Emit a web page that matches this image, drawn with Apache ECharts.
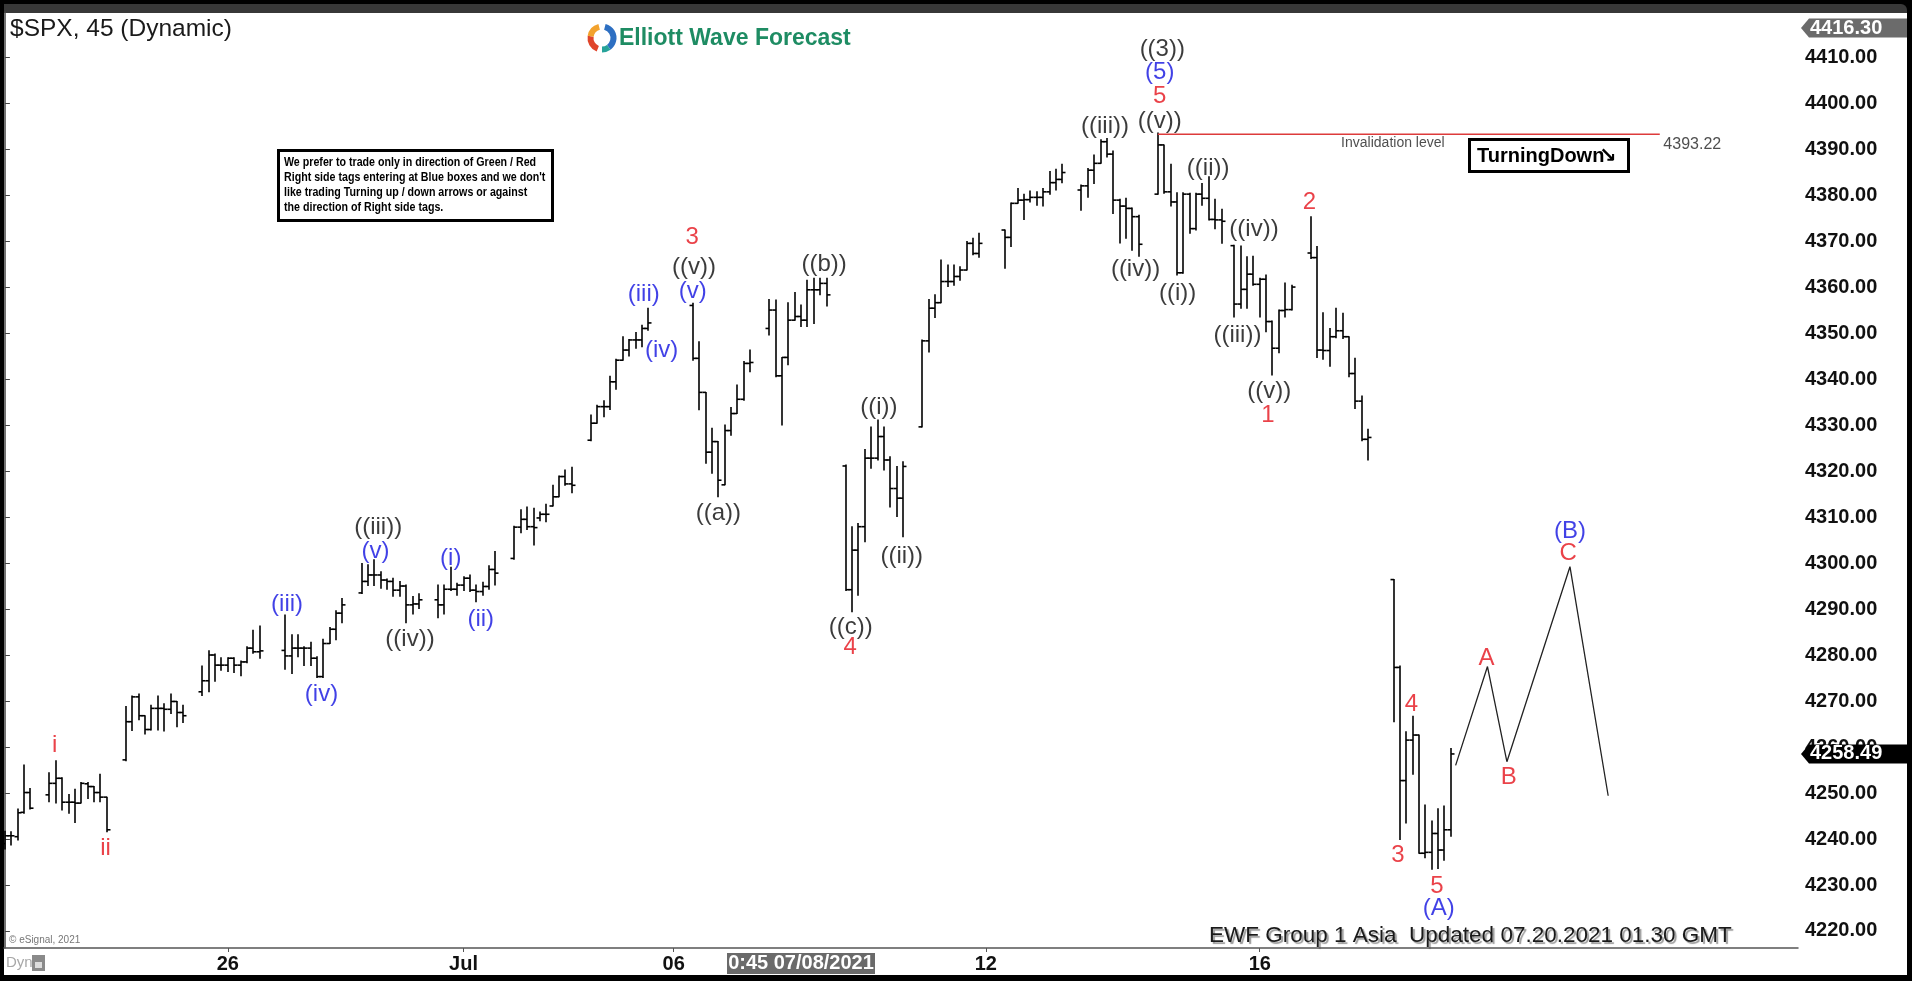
<!DOCTYPE html>
<html>
<head>
<meta charset="utf-8">
<title>$SPX, 45 (Dynamic)</title>
<script src="https://cdn.jsdelivr.net/npm/echarts@6.0.0/dist/echarts.min.js"></script>
<style>
  html, body { margin: 0; padding: 0; background: #000; overflow: hidden; }
  #frame { position: absolute; left: 4px; top: 13px; width: 1903px; height: 962px; background: #fff; }
  #topband { position: absolute; left: 4px; top: 4px; width: 1903px; height: 9px; background: #383838; border-top-right-radius: 6px; }
  #chart { position: absolute; left: 0; top: 0; width: 1912px; height: 981px; }
</style>
</head>
<body>
<div id="topband"></div>
<div id="frame"></div>
<div id="chart"></div>
<script>
// 45 minute bars, one row per session (Jun 22 .. Jul 19)
var dayStart = [0, 7, 19, 31, 44, 56, 68, 80, 92, 108, 120, 132, 144, 157, 169, 181, 193, 205, 218];
var dayCount = [5, 10, 10, 10, 10, 10, 10, 10, 10, 10, 10, 10, 10, 10, 10, 11, 10, 10, 10];

var opens = [
  4239.0,4240.7,4240.5,4245.8,4250.1,
  4249.6,4252.1,4253.2,4248.0,4248.0,4247.8,4252.0,4251.4,4250.1,4249.1,
  4257.2,4265.5,4270.9,4266.8,4263.8,4268.4,4268.4,4268.2,4269.9,4267.5,
  4272.0,4274.4,4280.0,4277.8,4277.8,4279.3,4277.8,4278.5,4281.5,4280.7,
  4281.0,4279.8,4281.5,4281.5,4281.5,4279.3,4275.3,4282.5,4285.6,4289.1,
  4293.5,4296.0,4297.4,4297.4,4296.3,4296.0,4294.1,4295.0,4290.9,4291.1,
  4292.0,4290.9,4294.3,4294.3,4295.2,4296.7,4294.1,4293.8,4294.9,4298.6,
  4301.0,4307.8,4309.5,4307.9,4309.8,4310.6,4312.4,4314.4,4318.8,4317.2,
  4326.7,4330.4,4334.0,4334.0,4339.4,4344.1,4346.3,4348.5,4348.5,4351.0,
  4356.0,4344.5,4337.1,4324.1,4326.4,4317.0,4328.8,4332.5,4335.6,4343.4,
  4351.0,4355.0,4340.7,4344.7,4352.8,4353.6,4352.8,4359.4,4359.4,4360.8,
  4321.1,4294.2,4302.8,4307.9,4322.8,4322.8,4327.5,4322.4,4316.2,4314.1,
  4329.6,4348.3,4355.4,4356.6,4361.2,4361.2,4362.3,4363.7,4369.5,4367.3,
  4372.4,4370.8,4378.2,4378.9,4379.0,4379.5,4379.5,4380.7,4382.7,4383.4,
  4381.1,4382.0,4385.4,4386.9,4391.6,4388.9,4378.9,4377.6,4377.1,4375.3,
  4380.2,4390.9,4380.7,4378.5,4363.1,4380.2,4372.7,4380.2,4379.3,4374.7,4374.6,
  4369.0,4356.3,4359.5,4362.8,4360.6,4361.7,4352.5,4346.7,4354.9,4355.1,
  4367.4,4366.4,4346.3,4346.2,4349.2,4350.5,4349.2,4341.2,4335.2,4326.9,
  4296.4,4277.3,4252.7,4261.5,4262.6,4236.9,4237.1,4241.2,4237.6,4242.0
];
var highs = [
  4241.7,4241.6,4246.5,4256.1,4251.0,
  4254.4,4257.0,4253.3,4249.7,4250.8,4252.3,4252.3,4251.4,4254.1,4249.1,
  4268.8,4271.1,4271.5,4266.8,4269.1,4271.1,4269.4,4271.5,4269.9,4269.1,
  4277.6,4280.9,4280.2,4279.4,4279.4,4279.4,4278.7,4281.8,4285.4,4286.3,
  4288.7,4284.4,4284.4,4281.8,4282.8,4279.6,4283.4,4286.0,4289.6,4292.3,
  4299.9,4299.6,4300.7,4298.1,4296.5,4296.7,4296.0,4295.2,4292.7,4293.3,
  4295.2,4295.2,4299.1,4295.6,4297.0,4297.4,4295.2,4295.8,4299.4,4302.5,
  4308.0,4311.6,4312.2,4311.9,4311.1,4312.8,4316.9,4318.9,4320.2,4320.8,
  4332.2,4334.3,4335.3,4340.6,4344.3,4349.2,4348.6,4350.1,4351.7,4355.4,
  4356.5,4348.1,4337.1,4329.3,4326.4,4330.0,4333.8,4338.7,4343.8,4346.3,
  4357.3,4357.2,4344.7,4356.6,4358.8,4356.1,4361.5,4361.9,4361.9,4361.9,
  4321.3,4307.9,4308.6,4324.7,4329.6,4331.1,4329.6,4323.1,4321.0,4322.0,
  4348.5,4357.3,4358.3,4365.9,4364.8,4364.8,4364.4,4369.9,4370.6,4371.7,
  4372.4,4378.3,4381.4,4380.2,4380.9,4380.7,4381.4,4385.1,4385.6,4386.7,
  4382.2,4385.8,4388.7,4392.0,4392.3,4389.6,4379.1,4379.3,4377.2,4375.6,
  4393.5,4390.9,4386.7,4380.5,4380.5,4380.4,4380.4,4382.5,4384.0,4379.1,4376.9,
  4369.1,4368.9,4366.6,4366.7,4361.9,4362.6,4352.6,4355.0,4360.9,4360.4,
  4375.3,4368.8,4354.4,4351.0,4355.4,4354.3,4349.2,4344.5,4336.3,4329.1,
  4296.4,4277.6,4263.3,4266.7,4262.6,4247.4,4243.9,4246.6,4247.2,4259.7
];
var lows = [
  4237.8,4238.7,4239.8,4245.6,4246.5,
  4248.1,4247.8,4246.3,4245.6,4243.6,4247.8,4248.8,4248.1,4248.1,4241.6,
  4257.0,4263.6,4265.9,4262.8,4263.7,4263.7,4263.5,4267.3,4264.4,4265.3,
  4271.2,4272.0,4274.3,4276.7,4276.4,4276.2,4275.5,4278.3,4280.4,4279.3,
  4276.9,4276.0,4279.6,4277.7,4277.7,4275.1,4275.1,4282.5,4283.3,4287.0,
  4293.4,4295.1,4295.1,4294.5,4294.3,4292.8,4292.8,4287.0,4288.9,4290.1,
  4288.1,4288.9,4294.0,4293.0,4294.0,4293.8,4291.6,4293.0,4294.3,4295.2,
  4300.8,4306.6,4307.3,4303.9,4309.2,4309.0,4312.4,4314.4,4316.9,4315.3,
  4326.6,4330.4,4331.8,4333.4,4337.8,4344.1,4345.0,4346.7,4347.0,4350.6,
  4344.1,4333.3,4321.7,4319.5,4314.4,4317.0,4327.8,4332.5,4335.4,4341.6,
  4349.6,4340.5,4330.0,4343.1,4352.8,4351.4,4351.4,4352.1,4358.3,4355.9,
  4294.0,4289.4,4293.0,4304.6,4320.6,4322.4,4320.2,4312.2,4310.1,4305.7,
  4329.6,4345.9,4353.4,4356.6,4360.1,4360.4,4361.5,4363.7,4367.0,4366.5,
  4364.1,4368.8,4378.2,4374.7,4378.5,4377.8,4377.6,4380.2,4381.1,4382.7,
  4376.7,4379.5,4382.5,4386.9,4388.3,4376.0,4369.6,4370.6,4368.0,4366.7,
  4380.2,4380.4,4377.6,4362.6,4363.0,4371.7,4372.4,4377.8,4374.6,4372.7,4369.5,
  4353.5,4355.4,4355.4,4360.4,4353.5,4350.3,4340.9,4345.7,4353.5,4355.0,
  4366.2,4344.7,4344.3,4342.8,4349.0,4348.8,4340.5,4333.6,4326.6,4322.4,
  4265.5,4239.9,4243.5,4254.1,4236.9,4235.9,4233.4,4233.6,4235.4,4240.6
];
var closes = [
  4240.7,4240.7,4245.7,4250.1,4246.7,
  4252.1,4253.2,4248.0,4248.0,4247.8,4252.1,4251.4,4250.1,4249.1,4242.0,
  4265.5,4270.9,4266.8,4263.8,4268.4,4268.4,4268.2,4269.9,4267.5,4266.8,
  4274.4,4280.0,4277.8,4277.8,4279.3,4277.8,4278.5,4281.5,4280.7,4280.9,
  4279.8,4281.5,4281.5,4281.5,4279.3,4275.3,4282.5,4285.6,4289.1,4290.9,
  4296.0,4297.4,4297.4,4296.3,4296.0,4294.1,4295.0,4290.9,4291.1,4292.0,
  4290.9,4294.3,4294.3,4295.2,4296.7,4294.1,4293.8,4294.9,4298.6,4297.8,
  4307.8,4309.5,4307.9,4307.7,4310.6,4310.6,4314.4,4318.8,4317.2,4316.9,
  4330.4,4334.0,4334.0,4339.4,4344.1,4346.3,4348.5,4348.5,4351.0,4352.2,
  4344.5,4337.1,4324.1,4326.4,4318.0,4328.8,4332.5,4335.6,4343.4,4343.6,
  4355.0,4340.7,4344.7,4352.8,4353.6,4352.8,4359.4,4359.4,4360.8,4358.3,
  4294.2,4302.8,4307.9,4322.8,4322.8,4327.5,4322.4,4316.2,4314.1,4321.0,
  4348.3,4355.4,4356.6,4361.2,4361.2,4362.3,4363.7,4369.5,4367.3,4369.5,
  4370.8,4378.2,4378.9,4379.0,4379.5,4379.5,4380.7,4382.7,4383.4,4384.9,
  4382.0,4385.4,4386.9,4391.6,4388.9,4378.9,4377.6,4377.1,4375.3,4369.3,
  4390.9,4380.7,4378.5,4363.1,4380.2,4372.7,4380.2,4379.3,4374.7,4374.6,4374.3,
  4356.3,4359.5,4362.8,4360.6,4361.7,4352.5,4346.7,4354.9,4355.1,4360.0,
  4366.4,4346.3,4346.2,4349.2,4350.5,4349.2,4341.2,4335.2,4326.9,4327.3,
  4277.3,4252.7,4261.5,4262.6,4236.9,4237.1,4241.2,4237.6,4242.0,4258.49
];

// x axis date marks (slot index -> text)
var dateTicks = [35, 72, 105, 154, 197];
var dateLabels = ['26', 'Jul', '06', '12', '16'];

// price ticks on the right scale
var priceTicks = [4220, 4230, 4240, 4250, 4260, 4270, 4280, 4290, 4300, 4310,
                  4320, 4330, 4340, 4350, 4360, 4370, 4380, 4390, 4400, 4410];

// wave counts
var waveX = [7.8, 15.8, 44.3, 49.7, 58.6, 58.2, 63.6, 70.0, 74.7, 100.3,
             103.1, 108.2, 108.0, 107.9, 112.0, 128.6, 137.2, 140.8, 132.8, 132.7,
             181.7, 181.3, 181.3, 181.3, 172.7, 188.9, 177.5, 184.1, 196.1, 193.5,
             198.5, 198.3, 204.8, 218.7, 220.8, 224.8, 225.1, 232.6, 236.1, 245.4, 245.7];
var waveY = [4260.4, 4238.0, 4291.1, 4271.5, 4307.7, 4302.6, 4283.5, 4301.1, 4287.8, 4358.5,
             4346.2, 4364.2, 4359.1, 4370.7, 4310.7, 4365.0, 4333.8, 4301.5, 4286.0, 4281.6,
             4411.7, 4406.6, 4401.5, 4396.1, 4395.0, 4385.9, 4363.9, 4358.7, 4372.5, 4349.6,
             4337.4, 4332.2, 4378.5, 4236.5, 4269.3, 4229.8, 4225.0, 4279.3, 4253.5, 4302.2, 4306.8];
var waveText = ['i', 'ii', '(iii)', '(iv)', '((iii))', '(v)', '((iv))', '(i)', '(ii)', '(iii)',
                '(iv)', '((v))', '(v)', '3', '((a))', '((b))', '((i))', '((ii))', '((c))', '4',
                '((3))', '(5)', '5', '((v))', '((iii))', '((ii))', '((iv))', '((i))', '((iv))', '((iii))',
                '((v))', '1', '2', '3', '4', '5', '(A)', 'A', 'B', 'C', '(B)'];
var waveColor = ['r', 'r', 'b', 'b', 'k', 'b', 'k', 'b', 'b', 'b',
                 'b', 'k', 'b', 'r', 'k', 'k', 'k', 'k', 'k', 'r',
                 'k', 'b', 'r', 'k', 'k', 'k', 'k', 'k', 'k', 'k',
                 'k', 'r', 'r', 'r', 'r', 'r', 'b', 'r', 'r', 'r', 'b'];

// projected path (A)-(B)
var projX = [227.75, 232.75, 235.8, 245.7, 251.7];
var projY = [4256.0, 4277.5, 4256.8, 4299.2, 4249.4];

// invalidation level
var invX = [181, 259.8];
var invLevel = 4393.22;

var lastPrice = 4258.49;
var cursorPrice = 4416.30;

var palette = { r: '#e5131b', b: '#1212e0', k: '#0a0a0a' };

var ohlc = [];
var k = 0;
dayStart.forEach(function (s, d) {
  for (var j = 0; j < dayCount[d]; j++) {
    ohlc.push([s + j, opens[k], highs[k], lows[k], closes[k]]);
    k++;
  }
});

var waveData = waveText.map(function (t, i) {
  return { value: [waveX[i], waveY[i]], name: t, label: { color: palette[waveColor[i]] } };
});

function renderBar(params, api) {
  var x = api.value(0);
  var o = api.coord([x, api.value(1)]);
  var h = api.coord([x, api.value(2)]);
  var l = api.coord([x, api.value(3)]);
  var c = api.coord([x, api.value(4)]);
  var px = Math.round(h[0]);
  var st = { stroke: '#000', lineWidth: 1.6 };
  return {
    type: 'group',
    children: [
      { type: 'line', shape: { x1: px, y1: h[1] - 0.5, x2: px, y2: l[1] + 0.5 }, style: st },
      { type: 'line', shape: { x1: px - 3.5, y1: o[1], x2: px, y2: o[1] }, style: st },
      { type: 'line', shape: { x1: px, y1: c[1], x2: px + 3.5, y2: c[1] }, style: st }
    ]
  };
}

var chart = echarts.init(document.getElementById('chart'));
var labelFont = '"Liberation Sans", Arial, sans-serif';

chart.setOption({
  animation: false,
  backgroundColor: 'transparent',
  grid: { left: 4, right: 114, top: 12, bottom: 33 },
  xAxis: {
    type: 'value',
    min: -0.14,
    max: 281.5,
    axisLine: { show: true, onZero: false, lineStyle: { color: '#555', width: 1.5 } },
    axisTick: { show: true, customValues: dateTicks, length: 4, lineStyle: { color: '#555' } },
    axisLabel: {
      customValues: dateTicks,
      margin: 6,
      fontFamily: labelFont,
      fontWeight: 'bold',
      fontSize: 20,
      color: '#111',
      formatter: function (v) {
        var i = dateTicks.indexOf(Math.round(v));
        return i >= 0 ? dateLabels[i] : '';
      }
    },
    splitLine: { show: false }
  },
  yAxis: {
    type: 'value',
    position: 'right',
    min: 4216.3,
    max: 4419.8,
    axisLine: { show: true, lineStyle: { color: '#444', width: 1.5 } },
    axisTick: { show: true, customValues: priceTicks, length: 5, lineStyle: { color: '#444' } },
    axisLabel: {
      customValues: priceTicks,
      margin: 7,
      fontFamily: labelFont,
      fontWeight: 'bold',
      fontSize: 20,
      color: '#111',
      formatter: function (v) { return v.toFixed(2); }
    },
    splitLine: { show: false }
  },
  series: [
    {
      type: 'custom',
      renderItem: renderBar,
      encode: { x: 0, y: [1, 2, 3, 4] },
      data: ohlc,
      silent: true
    },
    {
      type: 'line',
      data: invX.map(function (x) { return [x, invLevel]; }),
      symbol: 'none',
      lineStyle: { color: '#dd3b3b', width: 1.6 },
      silent: true
    },
    {
      type: 'line',
      data: projX.map(function (x, i) { return [x, projY[i]]; }),
      symbol: 'none',
      lineStyle: { color: '#222', width: 1.3 },
      silent: true
    },
    {
      type: 'scatter',
      data: waveData,
      symbolSize: 1,
      itemStyle: { color: 'rgba(0,0,0,0)' },
      label: {
        show: true,
        position: 'inside',
        formatter: '{b}',
        fontFamily: labelFont,
        fontSize: 24
      },
      silent: true,
      z: 5
    },
    {
      type: 'scatter',
      data: [
        { value: [217.9, 4391.2], name: 'Invalidation level', label: { fontSize: 14 } },
        { value: [264.9, 4391.0], name: '4393.22', label: { fontSize: 16 } }
      ],
      symbolSize: 1,
      itemStyle: { color: 'rgba(0,0,0,0)' },
      label: { show: true, position: 'inside', formatter: '{b}', fontFamily: labelFont, color: '#222' },
      silent: true
    }
  ]
});

var yCursor = chart.convertToPixel({ yAxisIndex: 0 }, cursorPrice);
var yLast = chart.convertToPixel({ yAxisIndex: 0 }, lastPrice);

function priceTag(y, fill, text) {
  return [
    {
      type: 'polygon', z: 20,
      shape: { points: [[1801, y], [1809, y - 9.5], [1907, y - 9.5], [1907, y + 9.5], [1809, y + 9.5]] },
      style: { fill: fill }
    },
    {
      type: 'text', z: 21, x: 1810, y: y,
      style: { text: text, font: 'bold 20px ' + labelFont, fill: '#fff', textVerticalAlign: 'middle' }
    }
  ];
}

var disclaimer = [
  'We prefer to trade only in direction of Green / Red',
  "Right side tags entering at Blue boxes and we don't",
  'like trading Turning up / down arrows or against',
  'the direction of Right side tags.'
].join('\n');

var overlays = [
  { type: 'text', x: 10, y: 29, style: { text: '$SPX, 45 (Dynamic)', font: '24.5px ' + labelFont, fill: '#1a1a1a', textVerticalAlign: 'middle' } },
  // logo
  { type: 'arc', shape: { cx: 602, cy: 38, r: 11.5, startAngle: Math.PI * 0.62, endAngle: Math.PI * 1.05 }, style: { stroke: '#e0452b', lineWidth: 6, fill: null } },
  { type: 'arc', shape: { cx: 602, cy: 38, r: 11.5, startAngle: Math.PI * 1.05, endAngle: Math.PI * 1.42 }, style: { stroke: '#f2a22e', lineWidth: 6, fill: null } },
  { type: 'arc', shape: { cx: 602, cy: 38, r: 11.5, startAngle: Math.PI * 1.58, endAngle: Math.PI * 2.3 }, style: { stroke: '#2d6fc2', lineWidth: 6, fill: null } },
  { type: 'arc', shape: { cx: 602, cy: 38, r: 11.5, startAngle: Math.PI * 0.3, endAngle: Math.PI * 0.5 }, style: { stroke: '#26a39a', lineWidth: 6, fill: null } },
  { type: 'text', x: 619, y: 39, style: { text: 'Elliott Wave Forecast', font: 'bold 23px ' + labelFont, fill: '#1e8c63', textVerticalAlign: 'middle' } },
  // disclaimer box
  { type: 'rect', shape: { x: 278.5, y: 150.5, width: 274, height: 70 }, style: { fill: '#fff', stroke: '#000', lineWidth: 3 } },
  { type: 'text', x: 284, y: 155, scaleX: 0.82, style: { text: disclaimer, font: 'bold 13px ' + labelFont, lineHeight: 15, fill: '#000', textVerticalAlign: 'top' } },
  // turning down box
  { type: 'rect', shape: { x: 1469.5, y: 139.5, width: 159, height: 32 }, style: { fill: '#fff', stroke: '#000', lineWidth: 3 } },
  { type: 'text', x: 1477, y: 156, style: { text: 'TurningDown', font: 'bold 20px ' + labelFont, fill: '#000', textVerticalAlign: 'middle' } },
  { type: 'text', x: 1599, y: 157, style: { text: '\u2198', font: 'bold 21px "DejaVu Sans", sans-serif', fill: '#000', textVerticalAlign: 'middle' } },
  // footer texts
  { type: 'text', x: 1209, y: 936, style: { text: 'EWF Group 1 Asia  Updated 07.20.2021 01.30 GMT', font: '22.5px ' + labelFont, fill: '#1a1a1a', textVerticalAlign: 'middle', textShadowColor: '#9a9a9a', textShadowOffsetX: 2, textShadowOffsetY: 2, textShadowBlur: 1 } },
  { type: 'text', x: 9, y: 940, style: { text: '\u00a9 eSignal, 2021', font: '10px ' + labelFont, fill: '#777', textVerticalAlign: 'middle' } },
  { type: 'text', x: 6, y: 963, style: { text: 'Dyn', font: '15px ' + labelFont, fill: '#a8a8a8', textVerticalAlign: 'middle' } },
  { type: 'rect', shape: { x: 32, y: 955, width: 13, height: 16 }, style: { fill: '#8a8a8a' } },
  { type: 'rect', shape: { x: 35, y: 962, width: 7, height: 6 }, style: { fill: '#dcdcdc' } },
  // cursor time box
  { type: 'rect', shape: { x: 727, y: 953, width: 148, height: 21 }, style: { fill: '#6a6a6a' } },
  { type: 'text', x: 801, y: 963.5, style: { text: '0:45 07/08/2021', font: 'bold 20px ' + labelFont, fill: '#fff', textAlign: 'center', textVerticalAlign: 'middle' } }
];

chart.setOption({
  graphic: overlays.concat(priceTag(yCursor, '#6b6b6b', cursorPrice.toFixed(2)), priceTag(yLast, '#000', lastPrice.toFixed(2)))
});
</script>
</body>
</html>
